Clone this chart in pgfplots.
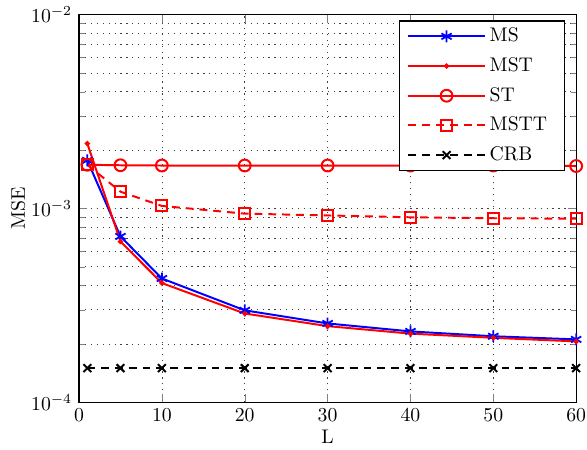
\documentclass[border=0pt]{standalone}
\usepackage{pgfplots}
\pgfplotsset{compat=1.18}
\begin{document}
\begin{tikzpicture}
\begin{semilogyaxis}[
  scale only axis,
  width=252pt, height=196.5pt,
  xmin=0, xmax=60, ymin=1e-4, ymax=1e-2,
  xtick={0,10,...,60},
  xlabel={L}, ylabel={MSE},
  xlabel style={yshift=3pt},
  ylabel style={yshift=-6pt, inner sep=5.5pt},
  xticklabel style={inner xsep=0.5pt},
  grid=both,
  major grid style={dash pattern=on 0.6pt off 2.4pt, black!75},
  minor grid style={dash pattern=on 0.6pt off 2.4pt, black!75},
  tick align=inside,
  axis line style={line width=0.6pt},
  legend style={at={(0.978,0.985)}, anchor=north east, draw=black, line width=0.6pt,
    row sep=2.5pt, inner xsep=4pt, inner ysep=1.5pt, font=\normalsize,
    nodes={text width=32pt}},
  legend cell align=left,
  legend image code/.code={
    \draw[mark repeat=2,mark phase=2] plot coordinates {(0cm,0cm) (0.68cm,0cm) (1.36cm,0cm)};
  },
]
\addplot[blue, line width=1pt, mark=asterisk, mark size=3pt, mark options={solid, line width=0.9pt}]
  coordinates {(1,1.77e-3) (5,7.17e-4) (10,4.35e-4) (20,2.98e-4) (30,2.55e-4) (40,2.32e-4) (50,2.19e-4) (60,2.11e-4)};
\addlegendentry{MS}
\addplot[red, line width=1pt, mark=*, mark size=0.8pt]
  coordinates {(1,2.16e-3) (5,6.75e-4) (10,4.12e-4) (20,2.87e-4) (30,2.47e-4) (40,2.26e-4) (50,2.15e-4) (60,2.06e-4)};
\addlegendentry{MST}
\addplot[red, line width=1pt, mark=o, mark size=3pt, mark options={solid}]
  coordinates {(1,1.68e-3) (5,1.67e-3) (10,1.665e-3) (20,1.665e-3) (30,1.665e-3) (40,1.665e-3) (50,1.665e-3) (60,1.655e-3)};
\addlegendentry{ST}
\addplot[red, line width=1pt, dash pattern=on 4pt off 3pt, mark=square, mark size=2.8pt, mark options={solid}]
  coordinates {(1,1.68e-3) (5,1.22e-3) (10,1.03e-3) (20,9.4e-4) (30,9.2e-4) (40,9.0e-4) (50,8.9e-4) (60,8.85e-4)};
\addlegendentry{MSTT}
\addplot[black, line width=1pt, dash pattern=on 4pt off 3pt, mark=x, mark size=2.8pt, mark options={solid}]
  coordinates {(1,1.5e-4) (5,1.5e-4) (10,1.5e-4) (20,1.5e-4) (30,1.5e-4) (40,1.5e-4) (50,1.5e-4) (60,1.5e-4)};
\addlegendentry{CRB}
\end{semilogyaxis}
\end{tikzpicture}
\end{document}
